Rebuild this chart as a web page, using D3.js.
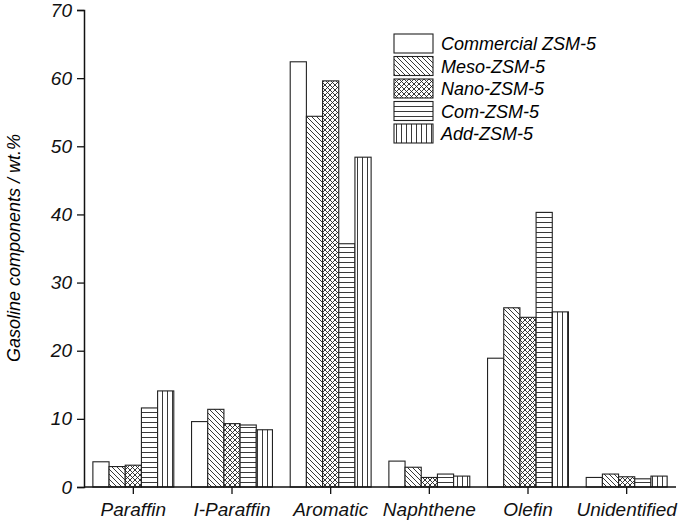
<!DOCTYPE html>
<html><head><meta charset="utf-8">
<script src="https://cdn.jsdelivr.net/npm/d3@7"></script>
<style>body{margin:0;background:#fff}text{font-family:Arial,"Liberation Sans",sans-serif;font-style:italic}</style>
</head><body>
<script>
const categories = ["Paraffin", "I-Paraffin", "Aromatic", "Naphthene", "Olefin", "Unidentified"];
const seriesNames = ["Commercial ZSM-5", "Meso-ZSM-5", "Nano-ZSM-5", "Com-ZSM-5", "Add-ZSM-5"];
const commercial = [3.7, 9.6, 62.4, 3.8, 18.9, 1.4];
const meso = [3.0, 11.4, 54.4, 2.9, 26.3, 1.9];
const nano = [3.2, 9.3, 59.6, 1.4, 24.9, 1.5];
const com = [11.6, 9.1, 35.7, 1.9, 40.3, 1.2];
const add = [14.1, 8.4, 48.4, 1.6, 25.7, 1.6];
const series = [commercial, meso, nano, com, add];
const yTicks = [0, 10, 20, 30, 40, 50, 60, 70];

const width = 685, height = 525;
const svg = d3.select("body").append("svg").attr("width", width).attr("height", height);
const mLeft = 84, mRight = 676, mTop = 10, mBottom = 487;

const defs = svg.append("defs");
function pat(id, draw) {
  const p = defs.append("pattern").attr("id", id).attr("patternUnits", "userSpaceOnUse")
    .attr("width", 5).attr("height", 5);
  p.append("rect").attr("width", 5).attr("height", 5).attr("fill", "#fff");
  draw(p);
}
const ln = (p, d) => p.append("path").attr("d", d).attr("stroke", "#222").attr("stroke-width", 0.9).attr("fill", "none");
pat("p1", p => ln(p, "M0,0L5,5M-1,4L1,6M4,-1L6,1"));
pat("p2", p => ln(p, "M0,0L5,5M-1,4L1,6M4,-1L6,1M0,5L5,0M-1,1L1,-1M4,6L6,4"));
pat("p3", p => ln(p, "M0,2.5L5,2.5"));
pat("p4", p => ln(p, "M2.5,0L2.5,5"));
const fills = ["#fff", "url(#p1)", "url(#p2)", "url(#p3)", "url(#p4)"];

const x = d3.scaleBand().domain(categories).range([mLeft, mRight]).paddingInner(0.18).paddingOuter(0.09);
const xs = d3.scaleBand().domain(d3.range(5)).range([0, x.bandwidth()]);
const y = d3.scaleLinear().domain([0, 70]).range([mBottom, mTop]);

series.forEach((vals, s) => {
  svg.append("g").selectAll("rect").data(vals).enter().append("rect")
    .attr("x", (d, i) => x(categories[i]) + xs(s))
    .attr("y", d => y(d))
    .attr("width", xs.bandwidth())
    .attr("height", d => mBottom - y(d))
    .attr("fill", fills[s]).attr("stroke", "#222").attr("stroke-width", 1.1);
});

const ya = svg.append("g").attr("transform", `translate(${mLeft},0)`)
  .call(d3.axisLeft(y).tickValues(yTicks).tickSize(7).tickPadding(5));
ya.selectAll("text").attr("font-size", 19).attr("fill", "#111");
const xa = svg.append("g").attr("transform", `translate(0,${mBottom})`)
  .call(d3.axisBottom(x).tickSize(7).tickPadding(9).tickSizeOuter(0));
xa.selectAll("text").attr("font-size", 19).attr("fill", "#111");
svg.selectAll(".domain").attr("stroke", "#111").attr("stroke-width", 1.5);
svg.selectAll(".tick line").attr("stroke", "#111").attr("stroke-width", 1.3);
xa.select(".domain").attr("d", `M${mLeft},0H${mRight}`);

svg.append("text").attr("transform", "translate(20,248) rotate(-90)")
  .attr("text-anchor", "middle").attr("font-size", 18).text("Gasoline components  / wt.%");

const lg = svg.append("g").attr("transform", "translate(394,34)");
seriesNames.forEach((n, i) => {
  lg.append("rect").attr("x", 0).attr("y", i * 22.5).attr("width", 39).attr("height", 19)
    .attr("fill", fills[i]).attr("stroke", "#222").attr("stroke-width", 1.1);
  lg.append("text").attr("x", 47).attr("y", i * 22.5 + 16).attr("font-size", 18).text(n);
});
</script>
</body></html>
